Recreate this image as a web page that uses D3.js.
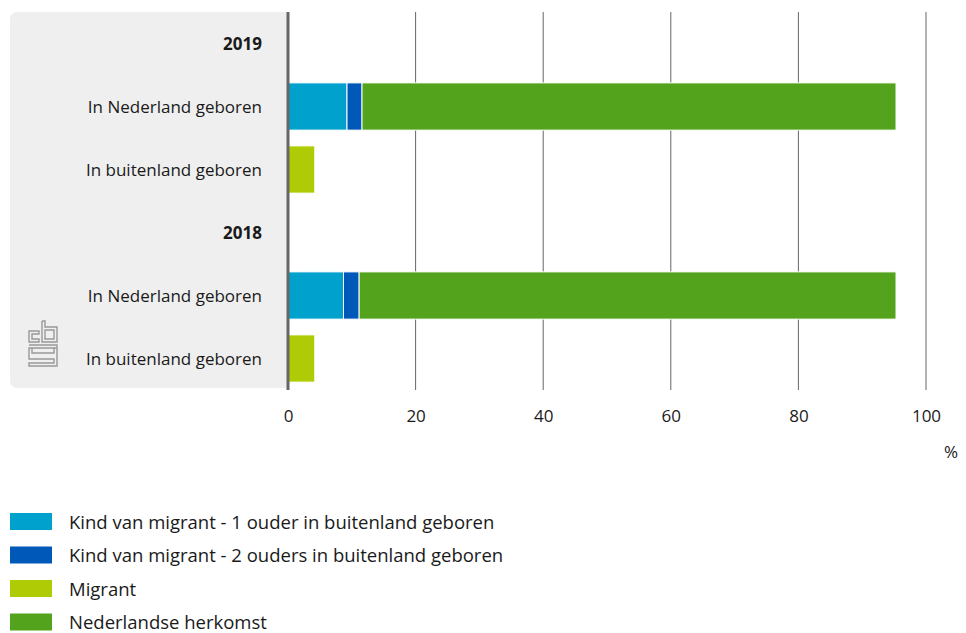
<!DOCTYPE html>
<html><head><meta charset="utf-8">
<script src="https://cdn.jsdelivr.net/npm/d3@7"></script>
<style>body{margin:0;background:#fff;} text{font-family:"Open Sans","Noto Sans",sans-serif;fill:#1a1a1a;}</style>
</head><body>
<svg id="c" width="966" height="633"></svg>
<script>
const rows = ["2019", "2019|In Nederland geboren", "2019|In buitenland geboren", "2018", "2018|In Nederland geboren", "2018|In buitenland geboren"];
const rowLabels = ["2019", "In Nederland geboren", "In buitenland geboren", "2018", "In Nederland geboren", "In buitenland geboren"];
const headerRows = ["2019", "2018"];
const seriesNames = ["Kind van migrant - 1 ouder in buitenland geboren", "Kind van migrant - 2 ouders in buitenland geboren", "Migrant", "Nederlandse herkomst"];
const colors = ["#00a1cd", "#0058b8", "#afcb05", "#53a31d"];
const kind1 = [0, 9.25, 0, 0, 8.7, 0];
const kind2 = [0, 2.35, 0, 0, 2.45, 0];
const migrant = [0, 0, 4.2, 0, 0, 4.2];
const nederlands = [0, 83.7, 0, 0, 84.15, 0];
const xTicks = [0, 20, 40, 60, 80, 100];

const svg = d3.select("#c");
const x = d3.scaleLinear().domain([0, 100]).range([288, 926]);
const y = d3.scaleBand().domain(rows).range([12, 390]).paddingInner(0.25).paddingOuter(0.125);

// gray panel
svg.append("path").attr("fill", "#efefef")
  .attr("d", "M288,12 L18,12 Q10,12 10,20 L10,380 Q10,388 18,388 L288,388 Z");

// gridlines
svg.append("g").selectAll("line").data(xTicks.slice(1)).join("line")
  .attr("x1", d => x(d)).attr("x2", d => x(d)).attr("y1", 12).attr("y2", 390)
  .attr("stroke", "#666").attr("stroke-width", 1);

// stacked bars
const table = rows.map((r, i) => ({row: r, k1: kind1[i], k2: kind2[i], m: migrant[i], n: nederlands[i]}));
const stack = d3.stack().keys(["k1", "k2", "m", "n"])(table);
svg.append("g").selectAll("g").data(stack).join("g").attr("fill", (d, i) => colors[i])
  .selectAll("rect").data(d => d.filter(e => e[1] - e[0] > 0)).join("rect")
  .attr("x", d => x(d[0])).attr("width", d => x(d[1]) - x(d[0]))
  .attr("y", d => y(d.data.row)).attr("height", y.bandwidth())
  .attr("stroke", "#fff").attr("stroke-width", 1);

// zero axis
svg.append("line").attr("x1", x(0)).attr("x2", x(0)).attr("y1", 12).attr("y2", 390)
  .attr("stroke", "#666").attr("stroke-width", 3);

// row labels
svg.append("g").selectAll("text").data(rows).join("text")
  .attr("x", 262).attr("y", d => y(d) + y.bandwidth() / 2)
  .attr("text-anchor", "end").attr("dominant-baseline", "central")
  .style("font-size", "17px")
  .style("font-weight", d => headerRows.includes(d) ? "bold" : "normal")
  .text((d, i) => rowLabels[i]);

// x axis
const ax = svg.append("g").attr("transform", "translate(0,417)")
  .call(d3.axisBottom(x).tickValues(xTicks).tickSize(0).tickPadding(0));
ax.select(".domain").remove();
ax.selectAll("text").style("font-size", "17px").attr("fill", "#1a1a1a")
  .attr("dy", "0.32em").attr("y", 0).style("font-family", '"Open Sans","Noto Sans",sans-serif');
svg.append("text").attr("x", 951).attr("y", 451).attr("text-anchor", "middle")
  .attr("dominant-baseline", "central").style("font-size", "17px").text("%");

// logo
const logo = svg.append("g").attr("fill", "none").attr("stroke", "#999").attr("stroke-width", 1.4);
logo.append("path").attr("d", "M29,331 h10 v3 h-7 v5 h7 v3 h-10 Z M42,321 h3 v6 h6 v0 M42,321 v21 h15 v-15 h-12 M45,330 h9 v9 h-9 Z");
logo.append("path").attr("d", "M29,345 h28 v21 h-28 v-3 h25 v-4 h-25 v-11 h28 M32,348 v5 h22 v-5");

// legend
const leg = svg.append("g").selectAll("g").data(seriesNames).join("g")
  .attr("transform", (d, i) => `translate(10,${521 + i * 33.5})`);
leg.append("rect").attr("x", 0).attr("y", -8).attr("width", 42).attr("height", 17).attr("fill", (d, i) => colors[i]);
leg.append("text").attr("x", 59).attr("y", 0).attr("dominant-baseline", "central")
  .style("font-size", "18.5px").text(d => d);
</script>
</body></html>
